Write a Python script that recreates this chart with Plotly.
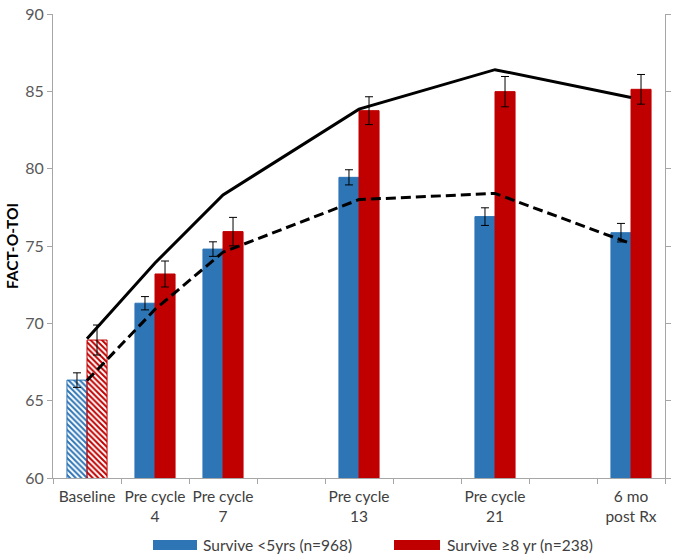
import plotly.graph_objects as go

# ---- data ----
categories = ["Baseline", "Pre cycle<br>4", "Pre cycle<br>7", " ", "Pre cycle<br>13",
              "  ", "Pre cycle<br>21", "   ", "6 mo<br>post Rx"]
time_points = ["Baseline", "Pre cycle<br>4", "Pre cycle<br>7", "Pre cycle<br>13",
               "Pre cycle<br>21", "6 mo<br>post Rx"]
short_vals = [66.33, 71.3, 74.8, 79.44, 76.9, 75.86]
short_err = [0.47, 0.43, 0.47, 0.49, 0.57, 0.6]
long_vals = [68.92, 73.19, 75.93, 83.75, 84.98, 85.13]
long_err = [0.97, 0.84, 0.92, 0.9, 0.98, 0.96]
long_model = [69.0, 73.9, 78.3, 83.85, 86.4, 84.6]
short_model = [66.3, 70.9, 74.6, 78.0, 78.4, 75.15]
baseline_pattern = ["\\", "", "", "", "", ""]
short_name = "Survive <5yrs (n=968)"
long_name = "Survive ≥8 yr (n=238)"

BLUE = "#2E75B6"
RED = "#C00000"
AXIS = "#A6A6A6"
FONT = "Lato, Open Sans, sans-serif"

fig = go.Figure()
fig.add_trace(go.Bar(
    x=time_points, y=short_vals, name=short_name,
    marker=dict(color=BLUE, line=dict(color=BLUE, width=1),
                pattern=dict(shape=baseline_pattern, size=4, solidity=0.5, fillmode="replace")),
    error_y=dict(type="data", array=short_err, color="#000000", thickness=1, width=4),
    showlegend=False,
))
fig.add_trace(go.Bar(
    x=time_points, y=long_vals, name=long_name,
    marker=dict(color=RED, line=dict(color=RED, width=1),
                pattern=dict(shape=baseline_pattern, size=4, solidity=0.5, fillmode="replace")),
    error_y=dict(type="data", array=long_err, color="#000000", thickness=1, width=4),
    showlegend=False,
))
fig.add_trace(go.Scatter(
    x=time_points, y=long_model, mode="lines",
    line=dict(color="black", width=3), showlegend=False, name="Model ≥8 yr",
))
fig.add_trace(go.Scatter(
    x=time_points, y=short_model, mode="lines",
    line=dict(color="black", width=3, dash="10px,5px"), showlegend=False, name="Model <5yrs",
))
# invisible trace to carry the right-hand axis
fig.add_trace(go.Scatter(x=[time_points[0]], y=[None], yaxis="y2", showlegend=False,
                         hoverinfo="skip"))

fig.update_layout(
    width=700, height=557,
    margin=dict(l=53, r=35, t=14, b=79),
    paper_bgcolor="white", plot_bgcolor="white",
    barmode="group", bargap=0.41, bargroupgap=0,
    font=dict(family=FONT, size=15, color="#595959"),
    xaxis=dict(
        type="category", categoryorder="array", categoryarray=categories,
        tickson="boundaries", ticks="outside", ticklen=5, tickcolor=AXIS,
        showline=True, linecolor=AXIS, linewidth=1, showgrid=False,
        tickfont=dict(size=15.5, color="#404040"), tickangle=0, ticklabelstandoff=4,
        range=[-0.5, 8.5], automargin=False,
    ),
    yaxis=dict(
        range=[60, 90], dtick=5, ticks="outside", ticklen=5, tickcolor=AXIS,
        showline=True, linecolor=AXIS, linewidth=1, showgrid=False, zeroline=False,
        tickfont=dict(size=16, color="#595959"), automargin=False,
        title=dict(text="<b>FACT-O-TOI</b>", font=dict(size=15.5, color="#000000"), standoff=2),
    ),
    yaxis2=dict(
        overlaying="y", side="right", range=[60, 90], dtick=5, automargin=False,
        ticks="outside", ticklen=5, tickcolor=AXIS, showticklabels=False,
        showline=True, linecolor=AXIS, linewidth=1, showgrid=False, zeroline=False,
    ),
)

# legend drawn beneath the axis (wide swatches like the original)
legend_items = [(short_name, BLUE, 0.1634, 0.2353, 0.2418),
                (long_name, RED, 0.5572, 0.6324, 0.6405)]
for label, color, x0, x1, xt in legend_items:
    fig.add_shape(type="rect", xref="paper", yref="paper", x0=x0, x1=x1,
                  y0=-0.1552, y1=-0.1336, fillcolor=color, line=dict(width=0))
    fig.add_annotation(xref="paper", yref="paper", x=xt, y=-0.1444, text=label,
                       showarrow=False, xanchor="left", yanchor="middle",
                       font=dict(size=15.5, color="#404040"))

fig.write_html("out.html", config={"displayModeBar": False},
               post_script="document.body.style.margin='0';")
